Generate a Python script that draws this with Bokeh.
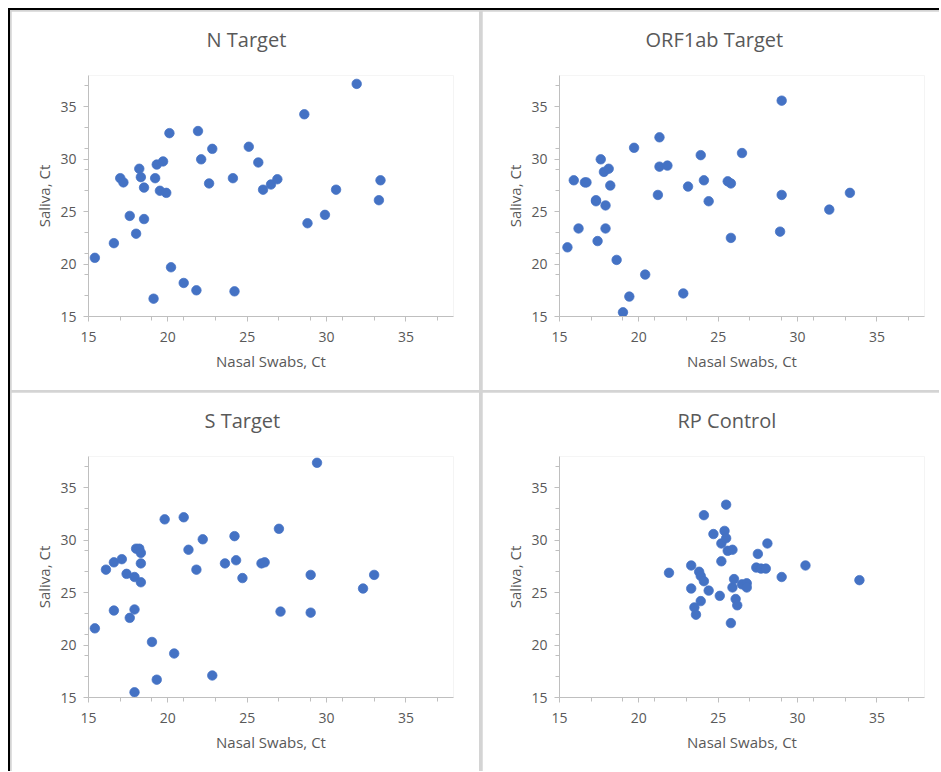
from bokeh.plotting import figure
from bokeh.layouts import row, column
from bokeh.models import FixedTicker, Range1d, Title
from bokeh.embed import file_html
from bokeh.resources import INLINE

titles = ["N Target", "ORF1ab Target", "S Target", "RP Control"]
x_label = "Nasal Swabs, Ct"
y_label = "Saliva, Ct"
major_ticks = [15, 20, 25, 30, 35]
minor_ticks = [17, 19, 21, 23, 27, 29, 31, 33, 37]
axis_min, axis_max = 15, 38

n_x = [15.4, 16.6, 17.0, 17.2, 17.6, 18.0, 18.2, 18.3, 18.5, 18.5, 19.1, 19.2, 19.3, 19.5,
       19.7, 19.9, 20.1, 20.2, 21.0, 21.8, 21.9, 22.1, 22.6, 22.8, 24.1, 24.2, 25.1, 25.7,
       26.0, 26.5, 26.9, 28.6, 28.8, 29.9, 30.6, 31.9, 33.3, 33.4]
n_y = [20.6, 22.0, 28.2, 27.8, 24.6, 22.9, 29.1, 28.3, 27.3, 24.3, 16.7, 28.2, 29.5, 27.0,
       29.8, 26.8, 32.5, 19.7, 18.2, 17.5, 32.7, 30.0, 27.7, 31.0, 28.2, 17.4, 31.2, 29.7,
       27.1, 27.6, 28.1, 34.3, 23.9, 24.7, 27.1, 37.2, 26.1, 28.0]

orf_x = [15.5, 15.9, 16.2, 16.6, 16.7, 17.3, 17.3, 17.4, 17.6, 17.8, 17.9, 17.9, 18.1, 18.2,
         18.6, 19.0, 19.4, 19.7, 20.4, 21.2, 21.3, 21.3, 21.8, 22.8, 23.1, 23.9, 24.1, 24.4,
         25.6, 25.8, 25.8, 26.5, 28.9, 29.0, 29.0, 32.0, 33.3]
orf_y = [21.6, 28.0, 23.4, 27.8, 27.8, 26.1, 26.0, 22.2, 30.0, 28.8, 23.4, 25.6, 29.1, 27.5,
         20.4, 15.4, 16.9, 31.1, 19.0, 26.6, 32.1, 29.3, 29.4, 17.2, 27.4, 30.4, 28.0, 26.0,
         27.9, 27.7, 22.5, 30.6, 23.1, 26.6, 35.6, 25.2, 26.8]

s_x = [15.4, 16.1, 16.6, 16.6, 17.1, 17.4, 17.6, 17.9, 17.9, 17.9, 18.0, 18.2, 18.3, 18.3,
       18.3, 19.0, 19.3, 19.8, 20.4, 21.0, 21.3, 21.8, 22.2, 22.8, 23.6, 24.2, 24.3, 24.7,
       25.9, 26.1, 27.0, 27.1, 29.0, 29.0, 29.4, 32.3, 33.0]
s_y = [21.6, 27.2, 23.3, 27.9, 28.2, 26.8, 22.6, 15.5, 26.5, 23.4, 29.2, 29.2, 28.8, 26.0,
       27.8, 20.3, 16.7, 32.0, 19.2, 32.2, 29.1, 27.2, 30.1, 17.1, 27.8, 30.4, 28.1, 26.4,
       27.8, 27.9, 31.1, 23.2, 23.1, 26.7, 37.4, 25.4, 26.7]

rp_x = [21.9, 23.3, 23.3, 23.5, 23.6, 23.8, 23.9, 23.9, 24.1, 24.1, 24.4, 24.7, 25.1, 25.2,
        25.2, 25.4, 25.5, 25.5, 25.6, 25.9, 25.8, 25.9, 26.0, 26.1, 26.2, 26.5, 26.8, 26.8,
        27.4, 27.7, 28.0, 27.5, 28.1, 29.0, 30.5, 33.9]
rp_y = [26.9, 27.6, 25.4, 23.6, 22.9, 27.0, 26.6, 24.2, 32.4, 26.1, 25.2, 30.6, 24.7, 28.0,
        29.7, 30.9, 30.2, 33.4, 29.0, 29.1, 22.1, 25.5, 26.3, 24.4, 23.8, 25.8, 25.9, 25.5,
        27.4, 27.3, 27.3, 28.7, 29.7, 26.5, 27.6, 26.2]

TEXT = "#595959"
AXIS = "#bfbfbf"
DOT = "#4472C4"
FONT = "Open Sans"


def make(title, xs, ys, border_right, title_offset):
    p = figure(frame_width=365, frame_height=241,
               min_border_left=77, min_border_right=border_right,
               min_border_top=64, min_border_bottom=74,
               x_range=Range1d(axis_min, axis_max), y_range=Range1d(axis_min, axis_max),
               output_backend="svg", toolbar_location=None, tools="")
    p.outline_line_color = None
    p.xgrid.visible = False
    p.ygrid.visible = False
    p.background_fill_color = "white"
    p.border_fill_color = "white"
    # real title, with an empty spacer title between it and the frame
    p.title.text = title
    p.title.text_font = FONT
    p.title.text_font_size = "20px"
    p.title.text_font_style = "normal"
    p.title.text_color = TEXT
    p.title.align = "left"
    p.title.offset = title_offset
    p.title.standoff = 4
    spacer = Title(text=" ", text_font=FONT, text_font_size="14px", standoff=0)
    p.add_layout(spacer, "above")
    for ax in (p.xaxis[0], p.yaxis[0]):
        ax.ticker = FixedTicker(ticks=major_ticks, minor_ticks=minor_ticks)
        ax.axis_line_color = AXIS
        ax.major_tick_line_color = AXIS
        ax.minor_tick_line_color = AXIS
        ax.major_tick_in = 0
        ax.major_tick_out = 5
        ax.minor_tick_in = 0
        ax.minor_tick_out = 4
        ax.major_label_text_font = FONT
        ax.major_label_text_font_size = "14px"
        ax.major_label_text_color = TEXT
        ax.axis_label_text_font = FONT
        ax.axis_label_text_font_size = "15px"
        ax.axis_label_text_font_style = "normal"
        ax.axis_label_text_color = TEXT
    p.xaxis.axis_label = x_label
    p.yaxis.axis_label = y_label
    p.xaxis.major_label_standoff = 10
    p.yaxis.major_label_standoff = 7
    p.xaxis.axis_label_standoff = 6
    p.yaxis.axis_label_standoff = 3
    p.scatter(xs, ys, size=9.5, fill_color=DOT, line_color=DOT, line_width=0.75)
    return p


p1 = make(titles[0], n_x, n_y, 26, 118)
p2 = make(titles[1], orf_x, orf_y, 15, 86)
p3 = make(titles[2], s_x, s_y, 26, 116)
p4 = make(titles[3], rp_x, rp_y, 15, 118)

inner = column(row(p1, p2, spacing=3), row(p3, p4, spacing=3), spacing=2,
               styles={"background-color": "#d4d4d4", "padding": "1px 0px 0px 1px"})
layout = column(inner, styles={"background-color": "#000000",
                               "padding": "2px 0px 0px 2px",
                               "margin": "8px 0px 0px 8px"})

open("out.html", "w").write(file_html(layout, INLINE))
